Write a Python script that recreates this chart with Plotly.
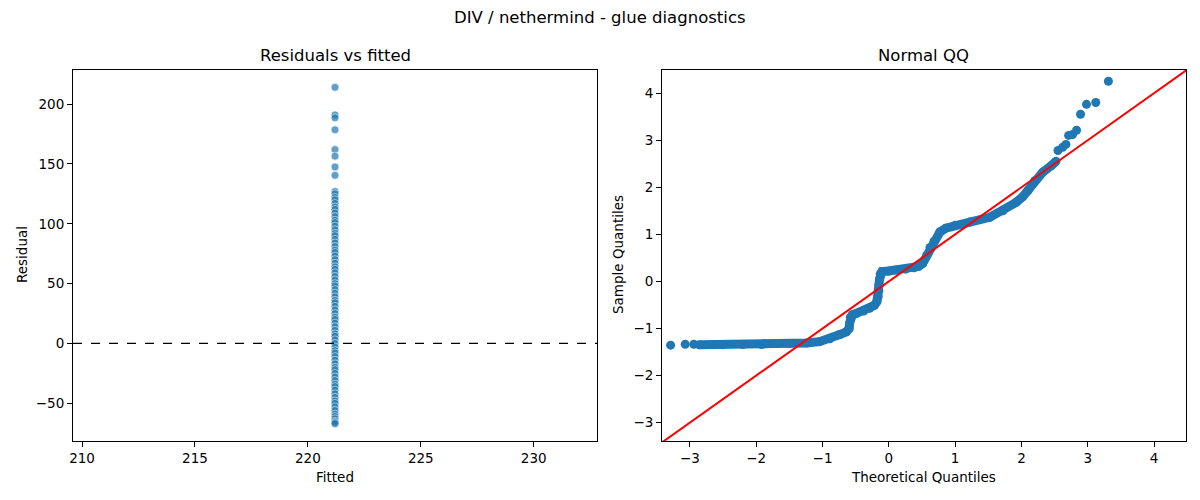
import plotly.graph_objects as go

# residuals vs fitted (all points share one fitted value)
fitted_value = 221.2
resid_outliers = [214, 191, 188.5, 178.5, 162, 156.5, 147.5, 140.5]
resid_dense = [127, 125, 122, 120, 117, 114, 112, 109, 106, 103, 101, 98, 95, 92,
               90, 87, 84, 81, 78, 76, 73, 70, 67, 64, 62, 59, 56, 53, 50, 48, 45,
               42, 39, 36, 34, 31, 28, 25, 22, 20, 17, 14, 11, 8, 6, 3, 0, -3,
               -6, -8, -11, -14, -17, -20, -22, -25, -28, -31, -34, -36, -39,
               -42, -45, -48, -50, -53, -56, -59, -61, -63, -65, -66, -67]

# normal QQ: dense band read along its centre, plus the separate tail points
qq_band_x = [-2.86, -2.5, -2.2, -1.92, -1.88, -1.5, -1.24, -1.045, -0.89, -0.74,
             -0.64, -0.60, -0.59, -0.58, -0.55, -0.49, -0.38, -0.29, -0.22, -0.18,
             -0.16, -0.15, -0.15, -0.14, -0.13, -0.10, 0.0, 0.11, 0.25, 0.38,
             0.45, 0.51, 0.57, 0.62, 0.68, 0.77, 0.86, 1.0, 1.22, 1.52, 1.72,
             1.92, 2.02, 2.10, 2.20, 2.32, 2.45, 2.52]
qq_band_y = [-1.345, -1.345, -1.34, -1.34, -1.325, -1.32, -1.31, -1.28, -1.22, -1.13,
             -1.07, -1.0, -0.88, -0.76, -0.71, -0.68, -0.63, -0.57, -0.51, -0.43,
             -0.32, -0.2, -0.08, 0.05, 0.16, 0.21, 0.22, 0.24, 0.26, 0.29,
             0.32, 0.38, 0.55, 0.72, 0.85, 1.05, 1.13, 1.19, 1.26, 1.36, 1.50,
             1.68, 1.80, 1.93, 2.14, 2.32, 2.46, 2.55]
qq_tail_x = [-3.29, -3.07, -2.94, 2.55, 2.62, 2.67, 2.71, 2.77, 2.83, 2.89, 2.98, 3.12, 3.31]
qq_tail_y = [-1.355, -1.334, -1.334, 2.78, 2.85, 2.91, 3.10, 3.12, 3.21, 3.55, 3.76, 3.80, 4.25]
qq_line = [-3.6, 4.6]

blue = '#1f77b4'
font = 'DejaVu Sans'

# the page body has an 8px margin, so the figure is a bit smaller and
# positions below are given in window pixels and shifted back
W, H, OFF = 1192, 492, 8


def px(xpix):
    return (xpix - OFF) / W


def py(ypix):
    return 1 - (ypix - OFF) / H


fig = go.Figure()

all_resid = resid_outliers + resid_dense
fig.add_trace(go.Scatter(
    x=[fitted_value] * len(all_resid), y=all_resid, mode='markers',
    marker=dict(size=8, color=blue, opacity=0.7, line=dict(color='white', width=0.7)),
    xaxis='x', yaxis='y', showlegend=False, hoverinfo='skip'))

fig.add_trace(go.Scatter(
    x=qq_band_x, y=qq_band_y, mode='lines+markers',
    line=dict(color=blue, width=9), marker=dict(size=9, color=blue),
    xaxis='x2', yaxis='y2', showlegend=False, hoverinfo='skip'))
fig.add_trace(go.Scatter(
    x=qq_tail_x, y=qq_tail_y, mode='markers',
    marker=dict(size=9, color=blue),
    xaxis='x2', yaxis='y2', showlegend=False, hoverinfo='skip'))
fig.add_trace(go.Scatter(
    x=qq_line, y=qq_line, mode='lines', line=dict(color='red', width=2),
    xaxis='x2', yaxis='y2', showlegend=False, hoverinfo='skip'))

fig.add_shape(type='line', xref='x domain', yref='y', x0=0, x1=1, y0=0, y1=0,
              line=dict(color='black', width=1.2, dash='dash'))

axis_style = dict(showline=True, linecolor='black', linewidth=1, mirror=True,
                  ticks='outside', ticklen=5, tickcolor='black', showgrid=False,
                  zeroline=False, tickfont=dict(size=13.5, color='black'))

ydom = [py(441), py(70)]
fig.update_layout(
    width=W, height=H,
    margin=dict(l=0, r=0, t=0, b=0),
    plot_bgcolor='white', paper_bgcolor='white',
    font=dict(family=font, color='black'),
    xaxis=dict(domain=[px(73), px(597)], range=[209.6, 232.8],
               tickvals=[210, 215, 220, 225, 230], anchor='y', automargin=False, **axis_style),
    yaxis=dict(domain=ydom, range=[-81.5, 228.5],
               tickvals=[-50, 0, 50, 100, 150, 200], anchor='x', automargin=False, **axis_style),
    xaxis2=dict(domain=[px(662), px(1186)], range=[-3.42, 4.48],
                tickvals=[-3, -2, -1, 0, 1, 2, 3, 4], anchor='y2', automargin=False, **axis_style),
    yaxis2=dict(domain=ydom, range=[-3.39, 4.49],
                tickvals=[-3, -2, -1, 0, 1, 2, 3, 4], anchor='x2', automargin=False, **axis_style),
)

labels = [
    ('DIV / nethermind - glue diagnostics', 600, 18, 0, 16.5),
    ('Residuals vs fitted', 335, 56, 0, 16.5),
    ('Normal QQ', 924, 56, 0, 16.5),
    ('Fitted', 335, 477, 0, 13.5),
    ('Theoretical Quantiles', 924, 477, 0, 13.5),
    ('Residual', 22, 255, -90, 13.5),
    ('Sample Quantiles', 618, 255, -90, 13.5),
]
for text, x, y, angle, size in labels:
    fig.add_annotation(text=text, x=px(x), y=py(y), xref='paper', yref='paper',
                       showarrow=False, textangle=angle,
                       font=dict(size=size, family=font, color='black'),
                       xanchor='center', yanchor='middle')

fig.write_html('out.html')
